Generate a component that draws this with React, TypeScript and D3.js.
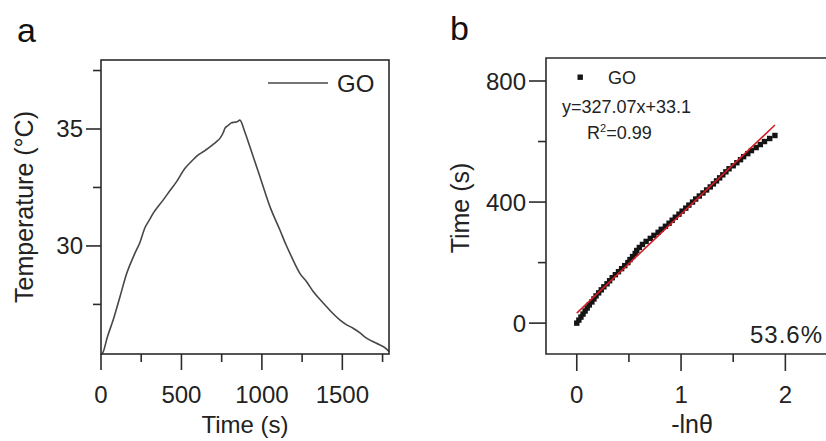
import React from "react";
import * as d3 from "d3";

// Panel a: temperature vs time
const timeA = [0, 10, 40, 76, 118, 160, 211, 242, 273, 300, 325, 387, 430, 470, 522, 560, 605, 640, 667, 700, 718, 739, 760, 770, 790, 811, 830, 847, 863, 895, 925, 988, 1050, 1112, 1150, 1184, 1236, 1280, 1319, 1360, 1401, 1440, 1484, 1520, 1567, 1610, 1650, 1712, 1774, 1790];
const tempA = [25.38, 25.42, 26.12, 26.84, 27.83, 28.83, 29.69, 30.15, 30.78, 31.1, 31.4, 31.97, 32.38, 32.75, 33.32, 33.6, 33.89, 34.05, 34.18, 34.36, 34.46, 34.6, 34.85, 35.03, 35.15, 35.27, 35.29, 35.31, 35.38, 34.85, 34.25, 32.96, 31.68, 30.68, 30.05, 29.54, 28.83, 28.45, 28.05, 27.72, 27.41, 27.12, 26.84, 26.66, 26.48, 26.28, 26.06, 25.84, 25.6, 25.48];
const xTicksA = [0, 500, 1000, 1500];
const xMinorA = [250, 750, 1250, 1750];
const yTicksA = [30, 35];
const yMinorA = [27.5, 32.5, 37.5];

// Panel b: Time vs -ln(theta)
const timeB = [0, 10, 20, 30, 40, 50, 60, 70, 80, 90, 100, 110, 120, 130, 140, 150, 160, 170, 180, 190, 200, 210, 220, 230, 240, 250, 260, 270, 280, 290, 300, 310, 320, 330, 340, 350, 360, 370, 380, 390, 400, 410, 420, 430, 440, 450, 460, 470, 480, 490, 500, 510, 520, 530, 540, 550, 560, 570, 580, 590, 600, 610, 620];
const lnThetaB = [0.0, 0.02, 0.04, 0.06, 0.08, 0.1, 0.12, 0.145, 0.165, 0.185, 0.21, 0.235, 0.26, 0.29, 0.315, 0.34, 0.37, 0.4, 0.43, 0.46, 0.49, 0.51, 0.535, 0.56, 0.575, 0.6, 0.63, 0.665, 0.705, 0.74, 0.78, 0.81, 0.85, 0.885, 0.915, 0.945, 0.98, 1.01, 1.045, 1.075, 1.11, 1.14, 1.175, 1.21, 1.245, 1.28, 1.31, 1.34, 1.37, 1.4, 1.43, 1.46, 1.5, 1.535, 1.57, 1.6, 1.64, 1.675, 1.72, 1.76, 1.8, 1.85, 1.9];
const fitSlope = 327.07;
const fitIntercept = 33.1;
const fitRange = [0, 1.9];
const xTicksB = [0, 1, 2];
const xMinorB = [0.5, 1.5, 2.5];
const yTicksB = [0, 400, 800];
const yMinorB = [200, 600];

const FONT = "'Liberation Sans', Arial, Helvetica, sans-serif";
const AX = "#2b2b2b";

export default function App() {
  const xa = d3.scaleLinear().domain([0, 1790]).range([101, 389]);
  const ya = d3.scaleLinear().domain([25.38, 37.95]).range([354, 60]);
  const xb = d3.scaleLinear().domain([-0.295, 2.5]).range([546, 837.5]);
  const yb = d3.scaleLinear().domain([-102, 876]).range([354, 58]);

  const lineA = d3
    .line<number>()
    .x((_, i) => xa(timeA[i]))
    .y((d) => ya(d))
    .curve(d3.curveMonotoneX);
  const fitLine = d3
    .line<number>()
    .x((d) => xb(d))
    .y((d) => yb(fitSlope * d + fitIntercept));

  const [a0, a1] = xa.range();
  const [ab, at] = ya.range();
  const [b0, b1] = xb.range();
  const [bb, bt] = yb.range();

  return (
    <svg
      width={826}
      height={441}
      style={{ position: "absolute", left: 0, top: 0, background: "#fff" }}
      fontFamily={FONT}
    >
      <rect width={826} height={441} fill="#fff" />
      {/* Panel a */}
      <text x={17} y={42} fontSize={34} fill="#111">a</text>
      <path d={lineA(tempA) || ""} fill="none" stroke="#474747" strokeWidth={1.6} strokeLinejoin="round" />
      <rect x={a0} y={at} width={a1 - a0} height={ab - at} fill="none" stroke={AX} strokeWidth={1.6} />
      {xTicksA.map((t) => (
        <g key={"xa" + t}>
          <line x1={xa(t)} x2={xa(t)} y1={ab} y2={ab + 16} stroke={AX} strokeWidth={1.6} />
          <text x={xa(t)} y={403} fontSize={24} textAnchor="middle" fill="#222">{t}</text>
        </g>
      ))}
      {xMinorA.map((t) => (
        <line key={"xam" + t} x1={xa(t)} x2={xa(t)} y1={ab} y2={ab + 8} stroke={AX} strokeWidth={1.6} />
      ))}
      {yTicksA.map((t) => (
        <g key={"ya" + t}>
          <line x1={a0 - 15} x2={a0} y1={ya(t)} y2={ya(t)} stroke={AX} strokeWidth={1.6} />
          <text x={83} y={ya(t) + 8.5} fontSize={24} textAnchor="end" fill="#222">{t}</text>
        </g>
      ))}
      {yMinorA.map((t) => (
        <line key={"yam" + t} x1={a0 - 8} x2={a0} y1={ya(t)} y2={ya(t)} stroke={AX} strokeWidth={1.6} />
      ))}
      <text x={245} y={433} fontSize={24} textAnchor="middle" fill="#222">Time (s)</text>
      <text transform="translate(33,207) rotate(-90)" fontSize={25} textAnchor="middle" fill="#222">
        Temperature (°C)
      </text>
      <line x1={268} x2={328} y1={83} y2={83} stroke="#474747" strokeWidth={1.6} />
      <text x={337} y={92} fontSize={24} fill="#222">GO</text>

      {/* Panel b */}
      <text x={450} y={40} fontSize={34} fill="#111">b</text>
      {timeB.map((t, i) => (
        <rect key={"p" + i} x={xb(lnThetaB[i]) - 2.7} y={yb(t) - 2.7} width={5.4} height={5.4} fill="#151515" />
      ))}
      <path d={fitLine(fitRange) || ""} fill="none" stroke="#d11f26" strokeWidth={1.6} />
      <path d={`M${b1},${bt}H${b0}V${bb}H${b1}`} fill="none" stroke={AX} strokeWidth={1.6} />
      {xTicksB.map((t) => (
        <g key={"xb" + t}>
          <line x1={xb(t)} x2={xb(t)} y1={bb} y2={bb + 17} stroke={AX} strokeWidth={1.6} />
          <text x={xb(t)} y={403} fontSize={24} textAnchor="middle" fill="#222">{t}</text>
        </g>
      ))}
      {xMinorB.map((t) => (
        <line key={"xbm" + t} x1={xb(t)} x2={xb(t)} y1={bb} y2={bb + 8} stroke={AX} strokeWidth={1.6} />
      ))}
      {yTicksB.map((t) => (
        <g key={"yb" + t}>
          <line x1={b0 - 17} x2={b0} y1={yb(t)} y2={yb(t)} stroke={AX} strokeWidth={1.6} />
          <text x={526} y={yb(t) + 8.5} fontSize={24} textAnchor="end" fill="#222">{t}</text>
        </g>
      ))}
      {yMinorB.map((t) => (
        <line key={"ybm" + t} x1={b0 - 8} x2={b0} y1={yb(t)} y2={yb(t)} stroke={AX} strokeWidth={1.6} />
      ))}
      <text x={692} y={433} fontSize={25} textAnchor="middle" fill="#222">-lnθ</text>
      <text transform="translate(469,208) rotate(-90)" fontSize={25} textAnchor="middle" fill="#222">
        Time (s)
      </text>
      <rect x={577.5} y={74.5} width={5.4} height={5.4} fill="#151515" />
      <text x={608} y={84} fontSize={18} fill="#222">GO</text>
      <text x={562} y={113} fontSize={18} fill="#222">y=327.07x+33.1</text>
      <text x={587} y={139} fontSize={18} fill="#222">
        R<tspan dy={-7} fontSize={11}>2</tspan>
        <tspan dy={7}>=0.99</tspan>
      </text>
      <text x={823} y={343} fontSize={24} letterSpacing={1} textAnchor="end" fill="#222">53.6%</text>
    </svg>
  );
}
